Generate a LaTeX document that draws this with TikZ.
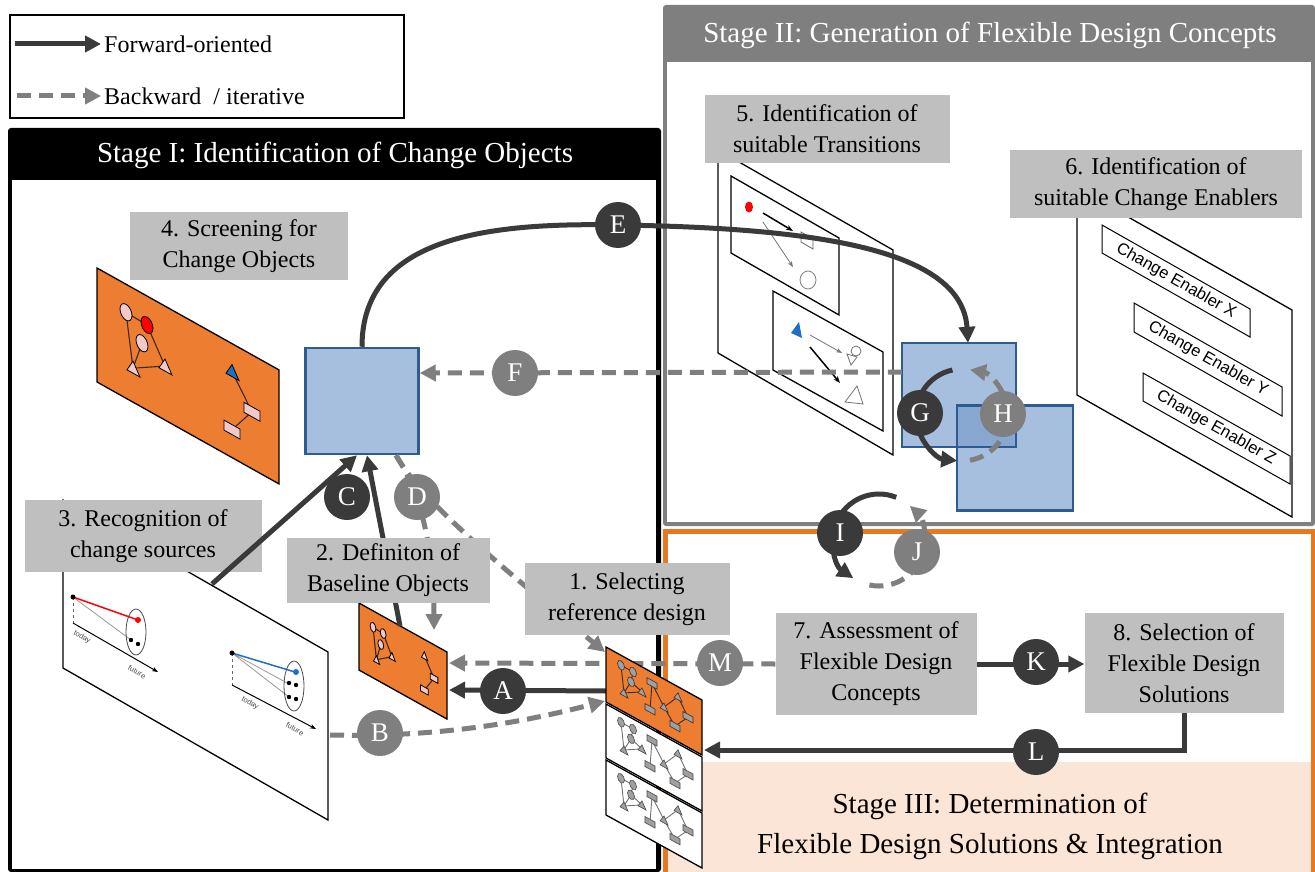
\documentclass[tikz,border=0pt]{standalone}
\usepackage{fontspec}
\setmainfont{Liberation Serif}
\newfontfamily\sansf{Liberation Sans}
\usetikzlibrary{arrows.meta}
\definecolor{darkA}{HTML}{3A3A3A}
\definecolor{grayA}{HTML}{7F7F7F}
\definecolor{grayP}{HTML}{7F7F7F}
\definecolor{lblgray}{HTML}{BFBFBF}
\definecolor{orangeF}{HTML}{ED7D31}
\definecolor{orangeB}{HTML}{E87722}
\definecolor{beige}{HTML}{FBE5D6}
\definecolor{blueF}{HTML}{A6BFDF}
\definecolor{blueO}{HTML}{88A8D2}
\definecolor{blueD}{HTML}{2F5C8F}
\definecolor{pinkF}{HTML}{F2C9C9}
\definecolor{blueT}{HTML}{1F6FC5}
\definecolor{lineBr}{HTML}{3B2A1A}
\definecolor{nodeG}{HTML}{A0A0A0}

\newcommand\objgraph[2]{%
  \draw[line width=1.1pt, draw=lineBr] (29,28)--(36,80) (50,29)--(68,60) (45,50)--(36,80)
     (36,80)--(68,60) (29,28)--(50,29) (135,28)--(155,57) (155,57)--(135,86);
  \draw[fill=pinkF, line width=.8pt] (29,28) ellipse (6 and 8);
  \draw[fill=#1, line width=.8pt] (50,29) ellipse (6 and 8);
  \draw[fill=pinkF, line width=.8pt] (45,50) ellipse (6 and 8);
  \draw[fill=pinkF, line width=.8pt] (30,85)--(43,85)--(36,73)--cycle;
  \draw[fill=pinkF, line width=.8pt] (62,65)--(75,65)--(68,53)--cycle;
  \draw[fill=#2, line width=.8pt] (129,33)--(142,33)--(135,21)--cycle;
  \draw[fill=pinkF, line width=.8pt] (147,52)--(163,52)--(163,62)--(147,62)--cycle;
  \draw[fill=pinkF, line width=.8pt] (127,81)--(143,81)--(143,91)--(127,91)--cycle;
}
\newcommand\stgraph[3]{%
  \draw[draw=#2, line width=.9pt] (15,10)--(27,10) (15,10)--(18,36) (27,10)--(25,21) (25,21)--(18,36)
     (18,36)--(36,25) (25,21)--(36,25) (46,11)--(44,38) (46,11)--(58,28) (58,28)--(72,10)
     (58,28)--(69,41) (72,10)--(82,25) (69,41)--(82,25);
  \foreach \a/\b in {15/10,27/10,25/21}{\draw[fill=#1, draw=#3, line width=.6pt] (\a,\b) ellipse (3.5 and 4.5);}
  \foreach \a/\b in {18/36,36/25,58/28,72/10}{\draw[fill=#1, draw=#3, line width=.6pt] (\a-4,\b+3)--(\a+4,\b+3)--(\a,\b-4)--cycle;}
  \foreach \a/\b in {46/11,44/38,69/41,82/25}{\draw[fill=#1, draw=#3, line width=.6pt] (\a-5,\b-3)--(\a+5,\b-3)--(\a+5,\b+3)--(\a-5,\b+3)--cycle;}
}

\begin{document}
\begin{tikzpicture}[x=1pt,y=-1pt,
  fwd/.style={draw=darkA, line width=5pt, -{Triangle[length=16pt,width=16pt]}},
  bwd/.style={draw=grayA, line width=5pt, dash pattern=on 14pt off 8pt, -{Triangle[length=16pt,width=16pt]}},
  lbl/.style={fill=lblgray, align=center, font=\fontsize{24}{31}\selectfont, inner sep=0pt},
  cD/.style={circle, fill=darkA, text=white, minimum size=46pt, inner sep=0pt, font=\fontsize{27}{27}\selectfont},
  cG/.style={cD, fill=grayA},
  pl/.style={draw=black, line width=1.3pt},
  hdr/.style={text=white, font=\fontsize{29}{29}\selectfont, inner sep=0pt},
  enb/.style={rotate=-29.6, font=\sansf\fontsize{16.5}{16.5}\selectfont, inner sep=0pt},
  tiny/.style={rotate=-30, font=\sansf\fontsize{7.5}{7.5}\selectfont, text=black!70, inner sep=0pt}
]
\useasboundingbox (0,0) rectangle (1315,872);
\fill[white] (0,0) rectangle (1315,872);

% ---------- panels ----------
\fill[grayP, rounded corners=3pt] (663,5) rectangle (1315,526);
\fill[white] (667,62) rectangle (1311,522);
\node[hdr] (h2) at (990,35) {Stage II: Generation of Flexible Design Concepts};

\fill[orangeB] (663,529) rectangle (1315,872);
\fill[white] (668,534) rectangle (1311,872);
\fill[beige] (668,762) rectangle (1311,872);
\node[align=center, font=\fontsize{29}{40}\selectfont, inner sep=0pt] (h3) at (990,826) {Stage III: Determination of\\Flexible Design Solutions \& Integration};

\fill[black, rounded corners=3pt] (8,128) rectangle (661,872);
\fill[white] (12,180) rectangle (656,869);
\node[hdr] (h1) at (335,155) {Stage I: Identification of Change Objects};

% ---------- legend ----------
\draw[line width=1.5pt] (10,15) rectangle (404,118);
\coordinate (lg1) at (15,44); \coordinate (lg2) at (101,44);
\coordinate (lg3) at (17,96); \coordinate (lg4) at (101,96);
\draw[fwd] (lg1) -- (lg2);
\draw[bwd] (lg3) -- (lg4);
\node[anchor=west, font=\fontsize{24}{24}\selectfont, inner sep=0pt] (lgt1) at (104,44) {Forward-oriented};
\node[anchor=west, font=\fontsize{24}{24}\selectfont, inner sep=0pt] (lgt2) at (104,96) {Backward~ / iterative};

% ---------- Stage I planes ----------
\begin{scope}[shift={(97,268)}, yslant=-0.56]
  \draw[pl, fill=orangeF] (0,0)--(182,0)--(182,114)--(0,114)--cycle;
  \objgraph{red}{blueT}
\end{scope}

% timeline plane
\draw[pl, fill=white] (63,500)--(328,652)--(328,820)--(63,668)--cycle;
\coordinate (tlC) at (212,584);
\coordinate (tlB) at (330,735);
\draw[dashed, black!60, line width=.8pt] (73,597) -- (73,623);
\draw[-{Stealth[length=6pt]}, line width=1pt] (73,623) -- (158,672);
\draw[black!40, line width=.8pt] (73,597) -- (131,640);
\draw[red, line width=1.5pt] (73,597) -- (138,620);
\fill (73,597) circle (2.5);
\fill[red] (138,620) circle (3);
\fill (131,640) circle (2.2); \fill (138,644) circle (2.2);
\draw[black!70, line width=.8pt] (136,632) ellipse (10 and 23);
\node[tiny] (td1) at (82,637) {today};
\node[tiny] (fu1) at (137,672) {future};
\draw[dashed, black!60, line width=.8pt] (232,653) -- (232,685);
\draw[-{Stealth[length=6pt]}, line width=1pt] (232,685) -- (316,729);
\draw[black!40, line width=.8pt] (232,653) -- (289,684) (232,653) -- (289,697);
\draw[blueT, line width=1.5pt] (232,653) -- (295,672);
\fill (232,653) circle (2.5);
\fill[blueT] (296,672) circle (3);
\fill (289,683) circle (2.2); \fill (296,685) circle (2.2);
\fill (289,697) circle (2.2); \fill (296,699) circle (2.2);
\draw[black!70, line width=.8pt] (294,686) ellipse (10 and 25);
\node[tiny] (td2) at (250,703) {today};
\node[tiny] (fu2) at (295,729) {future};

% baseline plane
\begin{scope}[shift={(359,603)}, yslant=-0.557, xscale=0.484, yscale=0.588]
  \draw[pl, fill=orangeF] (0,0)--(182,0)--(182,114)--(0,114)--cycle;
  \objgraph{pinkF}{pinkF}
\end{scope}
\coordinate (blC) at (400,626);
\coordinate (blD) at (434,630);
\coordinate (blA) at (449,690);
\coordinate (blM) at (449,663);

% ---------- Stage II planes ----------
\draw[pl, fill=white] (718,150)--(893,250)--(893,455)--(718,353)--cycle;
\draw[pl, fill=white] (731,176)--(839,238)--(839,315)--(731,253)--cycle;
\fill[red] (749,207) ellipse (4 and 5.5);
\draw[-{Stealth[length=7pt]}, line width=1.5pt] (763,213) -- (793,231);
\draw[-{Stealth[length=6pt]}, black!55, line width=.8pt] (763,222) -- (793,267);
\draw[black!60, line width=.8pt] (801,232)--(813,239)--(813,249)--(801,242)--cycle;
\draw[black!50, line width=.8pt] (808,280) ellipse (8 and 9);
\draw[pl, fill=white] (773,291)--(883,352)--(883,431)--(773,370)--cycle;
\fill[blueT] (791,333)--(799,322)--(802,338)--cycle;
\draw[-{Stealth[length=6pt]}, black!55, line width=.8pt] (810,335) -- (842,353);
\draw[-{Stealth[length=7pt]}, line width=1.5pt] (810,347) -- (840,383);
\draw[black!55, line width=.8pt] (856,351) circle (5);
\draw[black!55, line width=.8pt] (847,354)--(851,365)--(857,357)--cycle;
\draw[black!55, line width=.8pt] (845,402)--(863,404)--(857,386)--cycle;

% enablers plane
\draw[pl, fill=white] (1077,188)--(1292,310)--(1292,517)--(1077,395)--cycle;
\draw[line width=1pt, fill=white] (1102,225)--(1250,309)--(1250,337)--(1102,253)--cycle;
\draw[line width=1pt, fill=white] (1134,303)--(1282,387)--(1282,416)--(1134,332)--cycle;
\draw[line width=1pt, fill=white] (1143,373)--(1290,456)--(1290,484)--(1143,401)--cycle;
\node[enb] (enX) at (1176,281) {Change Enabler X};
\node[enb] (enY) at (1208,359) {Change Enabler Y};
\node[enb] (enZ) at (1216,428) {Change Enabler Z};

% ---------- blue squares ----------
\node[fill=blueF, draw=blueD, line width=2.5pt, minimum width=113pt, minimum height=106pt, inner sep=0pt] (sq1) at (362,401) {};
\node[fill=blueF, minimum width=114pt, minimum height=104pt, inner sep=0pt] (sq2a) at (959,395) {};
\node[fill=blueF, minimum width=116pt, minimum height=105pt, inner sep=0pt] (sq2b) at (1015,458) {};
\fill[blueO] (sq2b.north west) rectangle (sq2a.south east);
\draw[blueD, line width=2.5pt] (sq2a.south west) rectangle (sq2a.north east);
\draw[blueD, line width=2.5pt] (sq2b.south west) rectangle (sq2b.north east);

% ---------- labels ----------
\node[lbl, minimum width=237pt, minimum height=72pt] (l3) at (143,536) {3. Recognition of\\change sources};
\node[lbl, minimum width=218pt, minimum height=68pt] (l4) at (239,246) {4. Screening for\\Change Objects};
\node[lbl, minimum width=245pt, minimum height=68pt] (l5) at (827,129) {5. Identification of\\suitable Transitions};
\node[lbl, minimum width=292pt, minimum height=68pt] (l6) at (1156,184) {6. Identification of\\suitable Change Enablers};
\node[lbl, minimum width=201pt, minimum height=102pt] (l7) at (876,664) {7. Assessment of\\Flexible Design\\Concepts};
\node[lbl, minimum width=199pt, minimum height=100pt] (l8) at (1184,663) {8. Selection of\\Flexible Design\\Solutions};

% ---------- circle positions ----------
\coordinate (pE) at (618,225);
\coordinate (pF) at (515,373);
\coordinate (pG) at (920,413);
\coordinate (pH) at (1003,414);
\coordinate (pC) at (347,497);
\coordinate (pD) at (417,497);
\coordinate (pI) at (840,533);
\coordinate (pJ) at (917,552);
\coordinate (pM) at (720,663);
\coordinate (pK) at (1036,662);
\coordinate (pA) at (503,691);
\coordinate (pB) at (380,733);
\coordinate (pL) at (1036,752);
\coordinate (gc) at (962,415);
\coordinate (ic) at (879,540);
\coordinate (stD) at (605,652);
\coordinate (stB) at (605,701);
\coordinate (stA) at (606,691);
\coordinate (stL) at (704,750);

% ---------- connectors ----------
\draw[fwd] (sq1.north) .. controls (362,240) and (480,222) .. (pE) .. controls (820,228) and (962,250) .. ([xshift=9pt]sq2a.north);
\draw[bwd] ([yshift=23pt]sq2a.west) -- ([yshift=28pt]sq1.east);
\draw[fwd] (gc) ++(-102:46) arc[start angle=-102, end angle=-264, radius=46];
\draw[bwd] (gc) ++(-280:46) arc[start angle=-280, end angle=-440, radius=46];
\draw[fwd] (ic) ++(-68:46) arc[start angle=-68, end angle=-236, radius=46];
\draw[bwd] (ic) ++(-258:46) arc[start angle=-258, end angle=-408, radius=46];
\draw[fwd] (tlC) -- ([xshift=-5pt]sq1.south);
\draw[fwd] (blC) -- ([xshift=5pt]sq1.south);
\draw[bwd] ([xshift=34pt]sq1.south) .. controls (418,495) and (480,550) .. (stD);
\draw[bwd] ([xshift=34pt]sq1.south) .. controls (425,500) and (434,560) .. (blD);
\draw[bwd] (tlB) .. controls (450,738) and (540,718) .. (stB);
\draw[fwd] (stA) -- (blA);
\draw[bwd] (l7.west) -- (blM);
\draw[fwd] (l7.east) -- (l7.east -| l8.west);
\draw[fwd] (l8.south) |- (stL);

% labels over arrows
\node[lbl, minimum width=203pt, minimum height=65pt] (l2) at (388,570) {2. Definiton of\\Baseline Objects};
\node[lbl, minimum width=205pt, minimum height=72pt] (l1) at (627,599) {1. Selecting\\reference design};

% ---------- design stack ----------
\begin{scope}[shift={(606,647)}, yslant=-0.552]
  \draw[pl, fill=orangeF] (0,0)--(96,0)--(96,55)--(0,55)--cycle;
  \stgraph{nodeG}{lineBr}{black!80}
\end{scope}
\begin{scope}[shift={(606,704)}, yslant=-0.552]
  \draw[pl, fill=white] (0,0)--(96,0)--(96,54)--(0,54)--cycle;
  \stgraph{nodeG}{black!55}{black!70}
\end{scope}
\begin{scope}[shift={(606,760)}, yslant=-0.552]
  \draw[pl, fill=white] (0,0)--(96,0)--(96,55)--(0,55)--cycle;
  \stgraph{nodeG}{black!55}{black!70}
\end{scope}

% ---------- circles ----------
\node[cD] (cE) at (pE) {E};
\node[cG] (cF) at (pF) {F};
\node[cD] (cG) at (pG) {G};
\node[cG] (cH) at (pH) {H};
\node[cD] (cC) at (pC) {C};
\node[cG] (cDd) at (pD) {D};
\node[cD] (cI) at (pI) {I};
\node[cG] (cJ) at (pJ) {J};
\node[cG] (cM) at (pM) {M};
\node[cD] (cK) at (pK) {K};
\node[cD] (cA) at (pA) {A};
\node[cG] (cB) at (pB) {B};
\node[cD] (cL) at (pL) {L};
\end{tikzpicture}
\end{document}
